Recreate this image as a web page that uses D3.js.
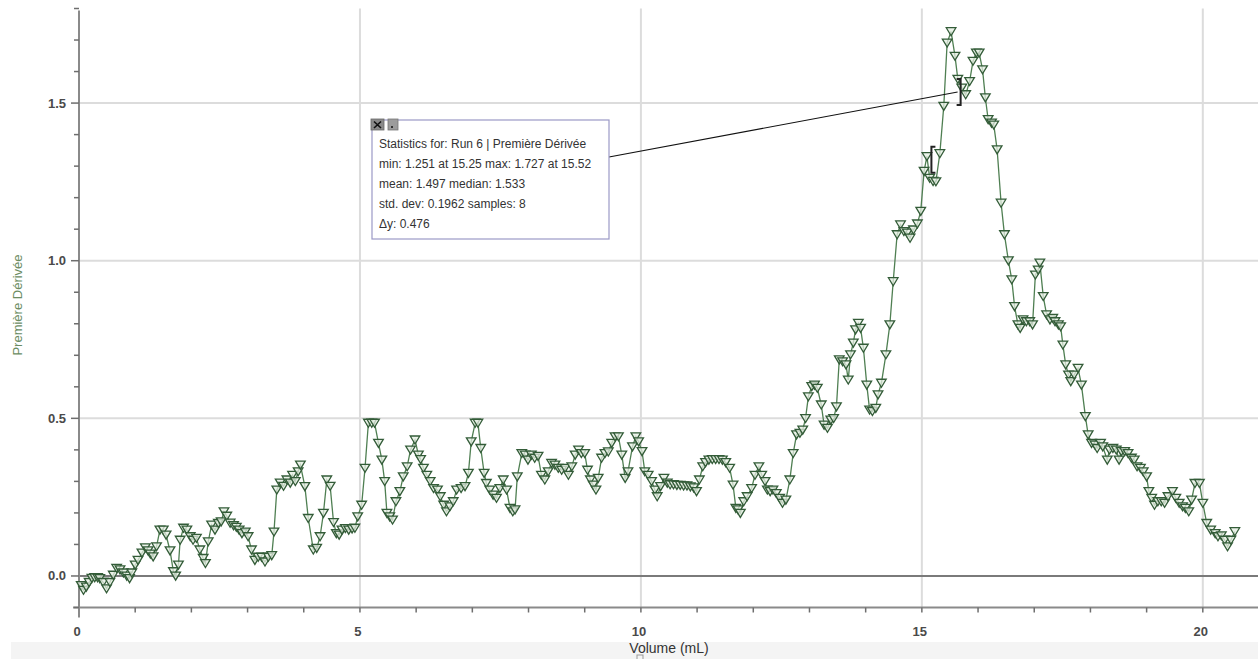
<!DOCTYPE html>
<html>
<head>
<meta charset="utf-8">
<script src="https://cdn.jsdelivr.net/npm/d3@7"></script>
<style>
  body { margin: 0; background: #fff; }
  svg { display: block; font-family: "Liberation Sans", Arial, Helvetica, sans-serif; }
</style>
</head>
<body>
<svg id="chart" width="1258" height="659"></svg>
<script>
// Run 6 — first derivative of the titration curve vs. delivered volume
const volume = [
  0.04, 0.08, 0.13, 0.18, 0.23, 0.28, 0.33, 0.37, 0.43, 0.49, 0.55, 0.61, 0.67, 0.73, 0.79, 0.85, 0.90, 0.94,
  1.00, 1.05, 1.12, 1.18, 1.23, 1.27, 1.32, 1.38, 1.44, 1.50, 1.55, 1.62, 1.68, 1.72, 1.77, 1.80, 1.86, 1.92, 1.98,
  2.03, 2.09, 2.15, 2.21, 2.25, 2.30, 2.36, 2.42, 2.48, 2.53, 2.58, 2.63, 2.69, 2.75, 2.80, 2.85, 2.90, 2.96,
  3.01, 3.07, 3.13, 3.19, 3.25, 3.31, 3.37, 3.43, 3.47, 3.52, 3.58, 3.64, 3.70, 3.76, 3.80, 3.85, 3.90, 3.94,
  4.02, 4.08, 4.17, 4.23, 4.29, 4.35, 4.41, 4.47, 4.53, 4.58, 4.63, 4.68, 4.74, 4.80, 4.86, 4.91, 4.96,
  5.03, 5.09, 5.15, 5.21, 5.26, 5.33, 5.39, 5.44, 5.48, 5.53, 5.58, 5.64, 5.71, 5.77, 5.84, 5.90, 5.98,
  6.04, 6.08, 6.13, 6.19, 6.25, 6.31, 6.38, 6.43, 6.49, 6.54, 6.60, 6.66, 6.72, 6.80, 6.87, 6.93, 6.98,
  7.05, 7.10, 7.15, 7.21, 7.25, 7.31, 7.37, 7.43, 7.49, 7.55, 7.61, 7.67, 7.72, 7.76, 7.80, 7.88, 7.94, 7.99,
  8.05, 8.11, 8.17, 8.23, 8.29, 8.35, 8.41, 8.47, 8.53, 8.59, 8.65, 8.71, 8.77, 8.83, 8.89, 8.94,
  9.00, 9.05, 9.10, 9.15, 9.20, 9.24, 9.30, 9.36, 9.42, 9.48, 9.54, 9.60, 9.66, 9.72, 9.77, 9.85, 9.91, 9.96,
  10.02, 10.07, 10.13, 10.19, 10.25, 10.29, 10.35, 10.41, 10.47, 10.52, 10.58, 10.64, 10.70, 10.76, 10.82, 10.88, 10.94, 10.99,
  11.04, 11.10, 11.15, 11.21, 11.27, 11.33, 11.39, 11.45, 11.51, 11.58, 11.64, 11.69, 11.73, 11.77, 11.83, 11.89, 11.97,
  12.03, 12.10, 12.15, 12.21, 12.25, 12.30, 12.35, 12.41, 12.47, 12.52, 12.58, 12.65, 12.71, 12.77, 12.83, 12.88, 12.93, 12.98,
  13.04, 13.09, 13.14, 13.21, 13.26, 13.32, 13.38, 13.43, 13.48, 13.53, 13.59, 13.65, 13.69, 13.73, 13.78, 13.82, 13.87, 13.91, 13.96,
  14.02, 14.07, 14.12, 14.18, 14.22, 14.28, 14.36, 14.43, 14.49, 14.56, 14.62, 14.68, 14.74, 14.79, 14.85, 14.92, 14.98,
  15.04, 15.09, 15.14, 15.20, 15.25, 15.32, 15.39, 15.45, 15.52, 15.59, 15.64, 15.71, 15.78, 15.85, 15.91, 15.97,
  16.02, 16.08, 16.13, 16.18, 16.24, 16.28, 16.34, 16.41, 16.47, 16.54, 16.60, 16.65, 16.71, 16.75, 16.80, 16.86, 16.92, 16.97,
  17.02, 17.07, 17.10, 17.16, 17.22, 17.28, 17.33, 17.37, 17.43, 17.47, 17.51, 17.56, 17.61, 17.65, 17.71, 17.78, 17.84, 17.91, 17.96,
  18.02, 18.08, 18.12, 18.18, 18.22, 18.30, 18.34, 18.40, 18.46, 18.51, 18.55, 18.61, 18.67, 18.73, 18.78, 18.83, 18.89, 18.94,
  19.00, 19.04, 19.09, 19.14, 19.20, 19.26, 19.32, 19.38, 19.46, 19.52, 19.58, 19.64, 19.69, 19.75, 19.80, 19.86, 19.94,
  20.00, 20.07, 20.14, 20.22, 20.27, 20.33, 20.39, 20.44, 20.50, 20.57
];

const derivative = [
  -0.030, -0.045, -0.035, -0.020, -0.007, -0.005, -0.005, -0.008, -0.020, -0.040, -0.020, 0.003, 0.025, 0.020, 0.010, 0.000, -0.008, 0.010,
  0.035, 0.050, 0.073, 0.090, 0.080, 0.070, 0.061, 0.093, 0.146, 0.146, 0.130, 0.080, 0.014, 0.000, 0.035, 0.114, 0.152, 0.146, 0.125,
  0.114, 0.120, 0.083, 0.056, 0.040, 0.109, 0.162, 0.146, 0.167, 0.172, 0.204, 0.190, 0.168, 0.160, 0.155, 0.146, 0.135, 0.140,
  0.125, 0.083, 0.050, 0.060, 0.060, 0.045, 0.060, 0.065, 0.140, 0.273, 0.295, 0.285, 0.305, 0.295, 0.320, 0.300, 0.331, 0.352,
  0.284, 0.183, 0.083, 0.088, 0.125, 0.199, 0.305, 0.285, 0.170, 0.135, 0.130, 0.146, 0.151, 0.146, 0.150, 0.152, 0.188,
  0.225, 0.342, 0.485, 0.485, 0.485, 0.421, 0.368, 0.300, 0.199, 0.188, 0.178, 0.236, 0.268, 0.315, 0.347, 0.400, 0.432,
  0.384, 0.370, 0.342, 0.320, 0.300, 0.278, 0.273, 0.252, 0.225, 0.204, 0.220, 0.236, 0.273, 0.278, 0.284, 0.326, 0.426,
  0.485, 0.485, 0.405, 0.326, 0.294, 0.273, 0.257, 0.247, 0.278, 0.305, 0.273, 0.215, 0.204, 0.210, 0.315, 0.389, 0.384, 0.368,
  0.384, 0.374, 0.380, 0.320, 0.305, 0.331, 0.358, 0.352, 0.342, 0.336, 0.342, 0.320, 0.347, 0.384, 0.400, 0.389,
  0.389, 0.336, 0.305, 0.289, 0.273, 0.310, 0.374, 0.389, 0.394, 0.421, 0.442, 0.442, 0.384, 0.310, 0.331, 0.410, 0.442, 0.426,
  0.395, 0.331, 0.320, 0.300, 0.273, 0.252, 0.284, 0.310, 0.295, 0.290, 0.290, 0.288, 0.288, 0.286, 0.286, 0.283, 0.280, 0.268,
  0.305, 0.347, 0.360, 0.368, 0.370, 0.370, 0.370, 0.368, 0.360, 0.342, 0.289, 0.215, 0.210, 0.199, 0.236, 0.252, 0.278,
  0.320, 0.347, 0.320, 0.300, 0.273, 0.268, 0.273, 0.262, 0.247, 0.231, 0.241, 0.305, 0.389, 0.448, 0.453, 0.463, 0.500, 0.569,
  0.601, 0.606, 0.596, 0.543, 0.479, 0.469, 0.495, 0.500, 0.537, 0.686, 0.680, 0.670, 0.622, 0.702, 0.739, 0.781, 0.802, 0.786, 0.723,
  0.606, 0.527, 0.522, 0.532, 0.575, 0.612, 0.702, 0.797, 0.934, 1.083, 1.114, 1.093, 1.088, 1.072, 1.098, 1.117, 1.157,
  1.284, 1.331, 1.262, 1.252, 1.251, 1.340, 1.490, 1.691, 1.727, 1.649, 1.576, 1.548, 1.527, 1.569, 1.633, 1.659,
  1.659, 1.606, 1.517, 1.448, 1.437, 1.431, 1.352, 1.183, 1.083, 1.000, 0.940, 0.855, 0.797, 0.786, 0.813, 0.807, 0.807, 0.797,
  0.955, 0.971, 0.993, 0.887, 0.829, 0.813, 0.818, 0.807, 0.797, 0.791, 0.733, 0.670, 0.638, 0.617, 0.638, 0.659, 0.606, 0.506, 0.448,
  0.421, 0.416, 0.405, 0.421, 0.410, 0.368, 0.400, 0.405, 0.400, 0.368, 0.395, 0.395, 0.389, 0.374, 0.368, 0.347, 0.342, 0.331,
  0.315, 0.268, 0.247, 0.225, 0.236, 0.236, 0.231, 0.252, 0.268, 0.247, 0.231, 0.220, 0.215, 0.204, 0.241, 0.294, 0.294,
  0.231, 0.167, 0.146, 0.135, 0.125, 0.128, 0.114, 0.093, 0.114, 0.141
];

// Axis ticks
const xMajorTicks = [0, 5, 10, 15, 20];
const xMinorTicks = [1, 2, 3, 4, 6, 7, 8, 9, 11, 12, 13, 14, 16, 17, 18, 19, 21];
const yMajorTicks = [0.0, 0.5, 1.0, 1.5];
const yMinorTicks = [-0.1, 0.1, 0.2, 0.3, 0.4, 0.6, 0.7, 0.8, 0.9, 1.1, 1.2, 1.3, 1.4, 1.6, 1.7, 1.8];

// Selected range for the statistics callout: [volume, derivative] for "[" and "]"
const selectionStart = [15.17, 1.32];
const selectionEnd = [15.69, 1.535];
const statsLines = [
  "Statistics for: Run 6 | Première Dérivée",
  "min: 1.251 at 15.25 max: 1.727 at 15.52",
  "mean: 1.497 median: 1.533",
  "std. dev: 0.1962 samples: 8",
  "Δy: 0.476"
];

const svg = d3.select("#chart");
const W = 1258, H = 659;

const x = d3.scaleLinear().domain([0, 21]).range([79, 1259]);
const y = d3.scaleLinear().domain([-0.1, 1.8]).range([607.5, 8.5]);

// Footer strip below the axis
svg.append("rect").attr("x", 11).attr("y", 642).attr("width", W - 11).attr("height", H - 642).attr("fill", "#f4f4f4");

// Grid
const grid = svg.append("g");
grid.selectAll("line.v").data(xMajorTicks.filter(d => d > 0)).join("line")
  .attr("x1", d => x(d)).attr("x2", d => x(d)).attr("y1", y(1.8)).attr("y2", y(-0.1))
  .attr("stroke", "#dcdcdc").attr("stroke-width", 2);
grid.selectAll("line.h").data(yMajorTicks.filter(d => d > 0)).join("line")
  .attr("x1", x(0)).attr("x2", W).attr("y1", d => y(d)).attr("y2", d => y(d))
  .attr("stroke", "#dcdcdc").attr("stroke-width", 2);

// Zero line
svg.append("line").attr("x1", x(0)).attr("x2", W).attr("y1", y(0)).attr("y2", y(0))
  .attr("stroke", "#7a7a7a").attr("stroke-width", 2);

// X axis
const xAxisG = svg.append("g").attr("transform", `translate(0,${y(-0.1)})`);
xAxisG.append("line").attr("x1", x(0) - 6).attr("x2", W).attr("y1", 0).attr("y2", 0)
  .attr("stroke", "#8a8a8a").attr("stroke-width", 2);
xAxisG.selectAll("line.tick").data(xMajorTicks.concat(xMinorTicks)).join("line")
  .attr("x1", d => x(d)).attr("x2", d => x(d)).attr("y1", 0).attr("y2", d => d === 0 ? 9 : 5)
  .attr("stroke", "#6e6e6e").attr("stroke-width", 1.5);
xAxisG.selectAll("text").data(xMajorTicks).join("text")
  .attr("x", d => x(d) - 2).attr("y", 28)
  .attr("text-anchor", "middle")
  .attr("font-size", 13).attr("font-weight", "bold").attr("fill", "#4a4a4a")
  .text(d => d3.format("d")(d));

// Y axis
const yAxisG = svg.append("g").attr("transform", `translate(${x(0)},0)`);
yAxisG.append("line").attr("x1", 0).attr("x2", 0).attr("y1", y(1.8) + 2).attr("y2", y(-0.1) + 10)
  .attr("stroke", "#8a8a8a").attr("stroke-width", 2);
yAxisG.selectAll("line.tick").data(yMajorTicks.concat(yMinorTicks)).join("line")
  .attr("x1", d => yMajorTicks.includes(d) ? -8 : -5).attr("x2", 0)
  .attr("y1", d => y(d)).attr("y2", d => y(d))
  .attr("stroke", "#6e6e6e").attr("stroke-width", 1.5);
yAxisG.selectAll("text").data(yMajorTicks).join("text")
  .attr("x", -13).attr("y", d => y(d) + 4.5)
  .attr("text-anchor", "end")
  .attr("font-size", 13).attr("font-weight", "bold").attr("fill", "#4a4a4a")
  .text(d => d3.format(".1f")(d));

// Axis titles
svg.append("text").attr("x", 669).attr("y", 653).attr("text-anchor", "middle")
  .attr("font-size", 14).attr("fill", "#333").text("Volume (mL)");
svg.append("rect").attr("x", 637).attr("y", 655).attr("width", 6).attr("height", 5)
  .attr("fill", "none").attr("stroke", "#999").attr("stroke-width", 1);
svg.append("text").attr("transform", "translate(22,305) rotate(-90)")
  .attr("text-anchor", "middle").attr("font-size", 13).attr("fill", "#6b8c62")
  .text("Première Dérivée");

// Series line and markers
const pts = volume.map((v, i) => [v, derivative[i]]);
const line = d3.line().x(d => x(d[0])).y(d => y(d[1]));
svg.append("path").datum(pts).attr("d", line)
  .attr("fill", "none").attr("stroke", "#4f7f52").attr("stroke-width", 1.3);

const tri = "M-4.8,-3.8L4.8,-3.8L0,4.2Z";
svg.append("g").selectAll("path").data(pts).join("path")
  .attr("d", tri)
  .attr("transform", d => `translate(${x(d[0])},${y(d[1])})`)
  .attr("fill", "rgba(228,237,226,0.75)")
  .attr("stroke", "#335c38").attr("stroke-width", 1.3);

// Selection brackets
function bracket(px, py, dir) {
  const h = 13, s = 4 * dir;
  return `M${px + s},${py - h}L${px},${py - h}L${px},${py + h}L${px + s},${py + h}`;
}
svg.append("path").attr("d", bracket(x(selectionStart[0]), y(selectionStart[1]), 1))
  .attr("fill", "none").attr("stroke", "#222").attr("stroke-width", 2);
svg.append("path").attr("d", bracket(x(selectionEnd[0]), y(selectionEnd[1]), -1))
  .attr("fill", "none").attr("stroke", "#222").attr("stroke-width", 2);

// Statistics callout
const box = { x: 372, y: 120, w: 237, h: 119 };
svg.append("line")
  .attr("x1", box.x + box.w).attr("y1", 157)
  .attr("x2", x(selectionEnd[0]) - 3).attr("y2", y(selectionEnd[1]))
  .attr("stroke", "#111").attr("stroke-width", 1.1);
svg.append("rect").attr("x", box.x).attr("y", box.y).attr("width", box.w).attr("height", box.h)
  .attr("fill", "#fff").attr("stroke", "#9b99c6").attr("stroke-width", 1.2);
svg.append("g").selectAll("text").data(statsLines).join("text")
  .attr("x", box.x + 7).attr("y", (d, i) => box.y + 28 + i * 20)
  .attr("font-size", 12).attr("fill", "#333").text(d => d);

// Close / pin buttons on the callout
svg.append("rect").attr("x", 371).attr("y", 119).attr("width", 13).attr("height", 11)
  .attr("fill", "#8a8a8a").attr("stroke", "#666").attr("stroke-width", 0.8);
svg.append("path").attr("d", "M374,121.5L381,128M381,121.5L374,128")
  .attr("stroke", "#111").attr("stroke-width", 1.6);
svg.append("rect").attr("x", 388).attr("y", 119).attr("width", 10).attr("height", 11)
  .attr("fill", "#9c9c9c").attr("stroke", "#777").attr("stroke-width", 0.8);
svg.append("rect").attr("x", 391).attr("y", 126).attr("width", 2).attr("height", 2).attr("fill", "#333");
</script>
</body>
</html>
